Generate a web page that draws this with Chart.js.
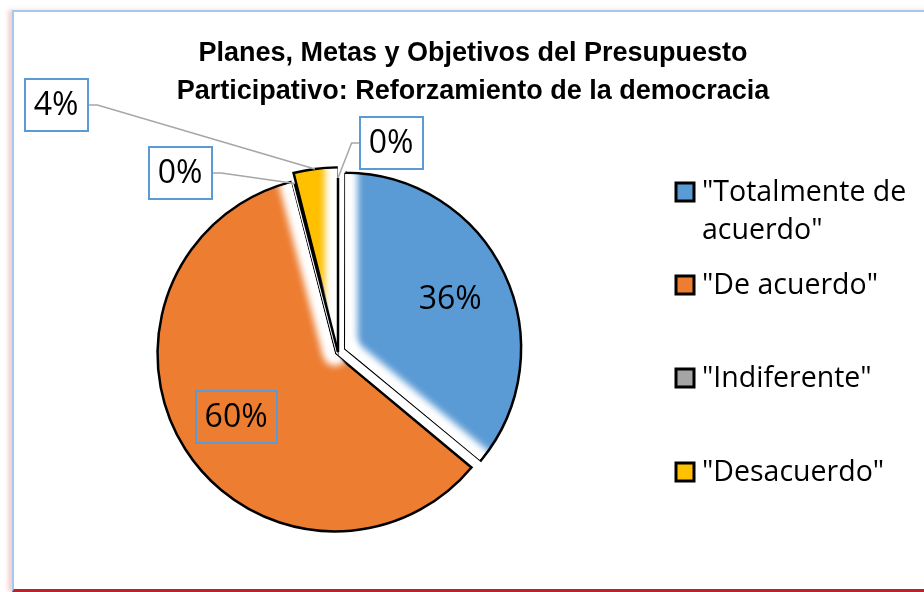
<!DOCTYPE html>
<html lang="es">
<head>
  <meta charset="UTF-8" />
  <title>Presupuesto Participativo</title>
  <style>
    * {
      margin: 0;
      padding: 0;
    }

    body {
      width: 924px;
      height: 592px;
      background: #fff;
      position: relative;
      overflow: hidden;
    }

    .frame {
      position: absolute;
      left: 12px;
      top: 10px;
      width: 940px;
      height: 577px;
      border-top: 2px solid #a4c9ef;
      border-left: 2px solid #a4c9ef;
      border-bottom: 3px solid #b8232b;
      box-shadow: -4px 0 4px rgba(225, 120, 130, 0.35);
    }

    .chartBox {
      position: absolute;
      left: 0;
      top: 0;
      width: 924px;
      height: 592px;
    }
  </style>
</head>
<body>
  <div class="frame"></div>
  <div class="chartBox">
    <canvas id="myChart"></canvas>
  </div>
  <script src="https://cdn.jsdelivr.net/npm/chart.js@4"></script>
  <script>
    const titleLines = [
      "Planes, Metas y Objetivos del Presupuesto",
      "Participativo: Reforzamiento de la democracia",
    ];
    const categories = [
      '"Totalmente de acuerdo"',
      '"De acuerdo"',
      '"Indiferente"',
      '"Desacuerdo"',
      '"Totalmente en desacuerdo"',
    ];
    const percents = [36, 60, 0, 4, 0];
    const colors = ["#5b9bd5", "#ed7d31", "#a5a5a5", "#ffc000", "#4472c4"];
    const explode = [32, 14, 0, 24, 0];
    const legendCount = 4; // last category is not shown in the legend

    // where excel put the outside data labels (box centres), null = inside the slice
    const labelSpots = [
      null,
      null,
      { x: 180, y: 173, side: "right" },
      { x: 56, y: 105, side: "right" },
      { x: 391, y: 143, side: "left" },
    ];
    // which straight edges of a slice get the soft white edge
    const softEdges = [["start", "end"], ["end"], [], ["end"], []];

    const labelFont = "32px 'Open Sans', sans-serif";
    const legendFont = "28.5px 'Open Sans', sans-serif";
    const titleFont = "bold 27px 'Liberation Sans', Arial, sans-serif";

    function sliceGeom(chart, i) {
      const arc = chart.getDatasetMeta(0).data[i];
      const p = arc.getProps(["x", "y", "startAngle", "endAngle", "outerRadius", "circumference"], true);
      const shift = (explode[i] || 0) / 4;
      const mid = (p.startAngle + p.endAngle) / 2;
      const fix = 1 - Math.sin(Math.min(Math.PI, p.circumference));
      return {
        x: p.x + Math.cos(mid) * shift,
        y: p.y + Math.sin(mid) * shift,
        r: p.outerRadius + shift * fix,
        start: p.startAngle,
        end: p.endAngle,
        mid: p.circumference > 0 ? mid : p.startAngle,
        circ: p.circumference,
      };
    }

    const pieExtras = {
      id: "pieExtras",
      afterDatasetsDraw(chart) {
        const ctx = chart.ctx;
        const n = chart.data.labels.length;

        // soft white edges
        for (let i = 0; i < n; i++) {
          const g = sliceGeom(chart, i);
          if (g.circ === 0) continue;
          softEdges[i].forEach((edge) => {
            const a = edge === "start" ? g.start : g.end;
            ctx.save();
            ctx.beginPath();
            ctx.moveTo(g.x, g.y);
            ctx.arc(g.x, g.y, g.r - 1.3, g.start, g.end);
            ctx.closePath();
            ctx.clip();
            ctx.filter = "blur(4px)";
            ctx.strokeStyle = "#fff";
            ctx.lineWidth = 20;
            ctx.lineCap = "round";
            for (let k = 0; k < 2; k++) {
              ctx.beginPath();
              ctx.moveTo(g.x, g.y);
              ctx.lineTo(g.x + Math.cos(a) * g.r * 1.1, g.y + Math.sin(a) * g.r * 1.1);
              ctx.stroke();
            }
            ctx.restore();
          });
        }

        // zero slices are drawn as a single line
        for (let i = 0; i < n; i++) {
          const g = sliceGeom(chart, i);
          if (g.circ !== 0) continue;
          ctx.save();
          ctx.strokeStyle = "#000";
          ctx.lineWidth = 2.5;
          ctx.beginPath();
          ctx.moveTo(g.x, g.y);
          ctx.lineTo(g.x + Math.cos(g.start) * g.r, g.y + Math.sin(g.start) * g.r);
          ctx.stroke();
          ctx.restore();
        }

        // data labels
        ctx.save();
        ctx.font = labelFont;
        ctx.textAlign = "center";
        ctx.textBaseline = "middle";
        for (let i = 0; i < n; i++) {
          const g = sliceGeom(chart, i);
          const text = percents[i] + "%";
          const w = ctx.measureText(text).width + 18;
          const h = 52;
          let cx, cy;
          const spot = labelSpots[i];
          if (spot) {
            cx = spot.x;
            cy = spot.y;
            const ax = g.x + Math.cos(g.mid) * g.r;
            const ay = g.y + Math.sin(g.mid) * g.r;
            const sx = spot.side === "right" ? cx + w / 2 : cx - w / 2;
            const ex = spot.side === "right" ? sx + 10 : sx - 8;
            ctx.strokeStyle = "#a6a6a6";
            ctx.lineWidth = 1.5;
            ctx.beginPath();
            ctx.moveTo(sx, cy);
            ctx.lineTo(ex, cy);
            ctx.lineTo(ax, ay);
            ctx.stroke();
          } else {
            cx = g.x + Math.cos(g.mid) * g.r * 0.66;
            cy = g.y + Math.sin(g.mid) * g.r * 0.66;
          }
          ctx.strokeStyle = "#5b9bd5";
          ctx.lineWidth = 2;
          ctx.strokeRect(Math.round(cx - w / 2), Math.round(cy - h / 2), Math.round(w), h);
          ctx.fillStyle = "#000";
          ctx.fillText(text, cx, cy + 1);
        }
        ctx.restore();
      },
      afterDraw(chart) {
        const ctx = chart.ctx;
        ctx.save();

        // title
        ctx.font = titleFont;
        ctx.fillStyle = "#000";
        ctx.textAlign = "center";
        ctx.textBaseline = "alphabetic";
        titleLines.forEach((line, k) => ctx.fillText(line, 473, 61 + k * 38));

        // legend
        ctx.font = legendFont;
        ctx.textAlign = "left";
        ctx.textBaseline = "middle";
        const rowY = [192, 285, 378, 472];
        for (let i = 0; i < legendCount; i++) {
          const y = rowY[i];
          ctx.fillStyle = colors[i];
          ctx.fillRect(676, y - 9, 18, 18);
          ctx.strokeStyle = "#000";
          ctx.lineWidth = 3;
          ctx.strokeRect(676, y - 9, 18, 18);

          // wrap the label like excel does
          const words = categories[i].split(" ");
          const lines = [];
          let cur = "";
          words.forEach((wd) => {
            const test = cur ? cur + " " + wd : wd;
            if (ctx.measureText(test).width > 215 && cur) {
              lines.push(cur);
              cur = wd;
            } else {
              cur = test;
            }
          });
          lines.push(cur);
          ctx.fillStyle = "#000";
          lines.forEach((ln, k) => ctx.fillText(ln, 702, y + 1 + k * 38));
        }
        ctx.restore();
      },
    };

    const data = {
      labels: categories,
      datasets: [
        {
          data: percents,
          backgroundColor: colors,
          borderColor: "#000",
          borderWidth: 2.5,
          borderJoinStyle: "miter",
          offset: explode,
          radius: 174,
        },
      ],
    };

    const options = {
      responsive: true,
      maintainAspectRatio: false,
      animation: false,
      layout: {
        padding: { left: 60, right: 308, top: 140, bottom: 28 },
      },
      plugins: {
        legend: { display: false },
        title: { display: false },
        tooltip: { enabled: false },
      },
    };

    const ctx = document.getElementById("myChart").getContext("2d");
    const myChart = new Chart(ctx, {
      type: "pie",
      data: data,
      options: options,
      plugins: [pieExtras],
    });
  </script>
</body>
</html>
